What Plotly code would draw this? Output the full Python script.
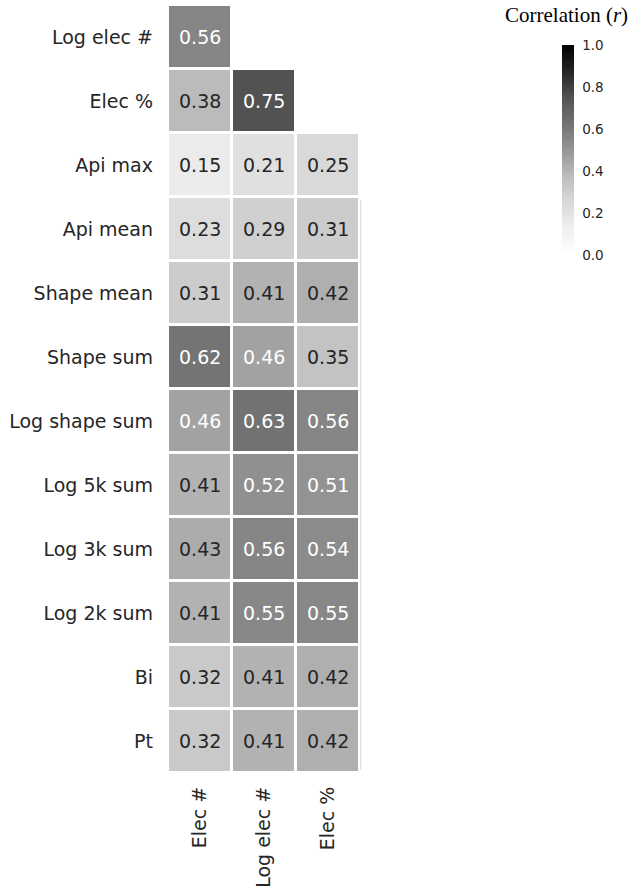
import plotly.graph_objects as go

# Correlation of each feature with the three electron measures
columns = ["Elec #", "Log elec #", "Elec %"]
rows = ["Log elec #", "Elec %", "Api max", "Api mean", "Shape mean", "Shape sum",
        "Log shape sum", "Log 5k sum", "Log 3k sum", "Log 2k sum", "Bi", "Pt"]

elec_count = [0.56, 0.38, 0.15, 0.23, 0.31, 0.62, 0.46, 0.41, 0.43, 0.41, 0.32, 0.32]
log_elec_count = [None, 0.75, 0.21, 0.29, 0.41, 0.46, 0.63, 0.52, 0.56, 0.55, 0.41, 0.41]
elec_pct = [None, None, 0.25, 0.31, 0.42, 0.35, 0.56, 0.51, 0.54, 0.55, 0.42, 0.42]

colorbar_ticks = [0.0, 0.2, 0.4, 0.6, 0.8, 1.0]

z = [[a, b, c] for a, b, c in zip(elec_count, log_elec_count, elec_pct)]

greys = [
    [0.0, "#ffffff"], [0.125, "#f0f0f0"], [0.25, "#d9d9d9"], [0.375, "#bdbdbd"],
    [0.5, "#969696"], [0.625, "#737373"], [0.75, "#525252"], [0.875, "#252525"],
    [1.0, "#000000"],
]

fig = go.Figure(go.Heatmap(
    z=z, x=columns, y=rows,
    zmin=0, zmax=1,
    colorscale=greys,
    xgap=3, ygap=3,
    hoverongaps=False,
    colorbar=dict(
        x=2.052, xanchor="left", xref="paper",
        y=0.948, yanchor="top",
        len=210, lenmode="pixels",
        thickness=12,
        xpad=0, ypad=0,
        outlinewidth=0,
        tickvals=colorbar_ticks,
        ticktext=[f"{v:.1f}" for v in colorbar_ticks],
        ticks="outside", ticklen=6, tickcolor="rgba(0,0,0,0)",
        tickfont=dict(family="DejaVu Sans", size=13.5, color="#262626"),
    ),
))

# Value labels: light text on dark cells
annotations = []
for r, row in zip(rows, z):
    for c, v in zip(columns, row):
        if v is None:
            continue
        annotations.append(dict(
            x=c, y=r, xref="x", yref="y", text=f"{v:.2f}", showarrow=False,
            font=dict(family="DejaVu Sans", size=19,
                      color="#ffffff" if v > 0.45 else "#262626"),
        ))

annotations.append(dict(
    x=2.408, y=0.987, xref="paper", yref="paper", xanchor="right", yanchor="middle",
    text="Correlation (<i>r</i>)", showarrow=False,
    font=dict(family="Liberation Serif", size=21, color="#000000"),
))

# faint edge along the right side of the full rows
first_full = rows.index("Api mean")
shapes = [dict(
    type="line", xref="paper", yref="y",
    x0=1.004, x1=1.004, y0=first_full - 0.45, y1=len(rows) - 0.55,
    line=dict(color="#d4d4d4", width=1),
)]

fig.update_layout(
    width=631, height=888,
    margin=dict(l=168, r=271, t=5, b=115, autoexpand=False),
    paper_bgcolor="white", plot_bgcolor="white",
    annotations=annotations,
    shapes=shapes,
    xaxis=dict(
        side="bottom", tickangle=-90, showgrid=False, zeroline=False, showline=False,
        ticks="", ticklabelstandoff=9, automargin=False,
        tickfont=dict(family="DejaVu Sans", size=19, color="#262626"),
        categoryorder="array", categoryarray=columns,
    ),
    yaxis=dict(
        autorange="reversed", showgrid=False, zeroline=False, showline=False,
        ticks="", ticklabelstandoff=14, automargin=False,
        tickfont=dict(family="DejaVu Sans", size=19, color="#262626"),
        categoryorder="array", categoryarray=rows,
    ),
)

fig.write_html("out.html")
